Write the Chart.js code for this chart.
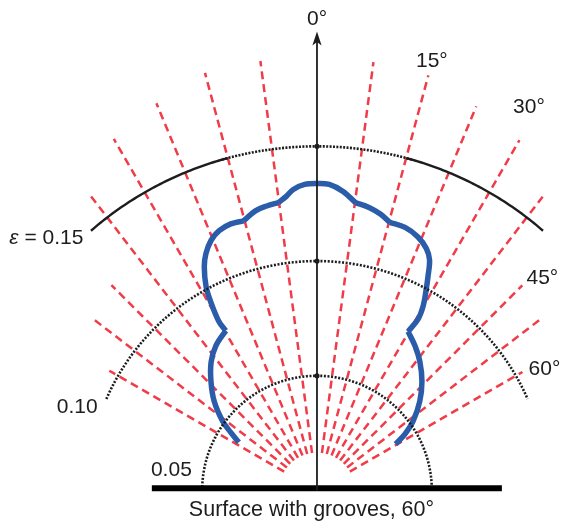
<!DOCTYPE html>
<html>
<head>
<meta charset="utf-8">
<script src="https://cdn.jsdelivr.net/npm/chart.js@4.4.1/dist/chart.umd.min.js"></script>
<style>
  html, body { margin: 0; padding: 0; background: #fff; }
  canvas { display: block; }
</style>
</head>
<body>
<canvas id="c" width="563" height="530"></canvas>
<script>
// Directional emissivity of a surface with 60° grooves (polar angle in degrees, 0° = normal)
const curveAngles = [-58.3, -56, -53.6, -49, -44.2, -39.4, -34.8, -29.7, -30.1, -29.4, -28.5, -26.7,
  -25.1, -22.9, -20.6, -17.9, -15.2, -12.4, -10, -7.6, -5.9, -4.5, -2.3, 0,
  2.3, 4.9, 7.6, 10.4, 12.9, 15.2, 18.5, 21.7, 24.3, 26, 27.4, 28.5,
  29.9, 30.5, 29.8, 34, 38.6, 43.9, 49, 54.1, 57.3, 59.4];
const curveEmissivity = [0.040, 0.0453, 0.0511, 0.0593, 0.0662, 0.0726, 0.077, 0.0802, 0.0853, 0.094, 0.1012, 0.1092,
  0.114, 0.1184, 0.121, 0.1221, 0.1218, 0.1248, 0.1259, 0.1266, 0.129, 0.1316, 0.1335, 0.1338,
  0.1335, 0.1309, 0.1266, 0.1254, 0.1236, 0.1211, 0.1209, 0.1189, 0.1157, 0.1118, 0.105, 0.0996,
  0.0927, 0.0867, 0.0798, 0.0762, 0.0718, 0.0659, 0.0593, 0.0517, 0.0455, 0.0398];
// indices where the curve has a sharp notch between lobes
const curveCorners = [7, 16, 19, 26, 29, 38];

// Measurement directions (dashed rays) and how far out each ray reaches
const rayAngles = [-60, -52.5, -45, -37.5, -30, -22.5, -15, -7.5, 7.5, 15, 22.5, 30, 37.5, 45, 52.5, 60];
const rayOuter = [0.1044, 0.1232, 0.1266, 0.162, 0.1769, 0.1827, 0.1884, 0.1888,
  0.1883, 0.1873, 0.1812, 0.1763, 0.1614, 0.1264, 0.1221, 0.1033];
const rayInner = 0.0165;

// Circles of constant emissivity and their angular half-span
const ringLevels = [0.05, 0.10, 0.15];
const ringSpans = [90, 66.5, 41];
const ringLabels = ['0.05', '0.10', '= 0.15'];
const angleTicks = ['0°', '15°', '30°', '45°', '60°'];
const surfaceSpan = [-0.0719, 0.0805];
const axisTop = 0.2;
const titleText = 'Surface with grooves, 60°';

// ---- geometry helpers ----
const PX_PER_UNIT = 2330;
const ORIGIN = { x: 317.5, y: 494 };
const W = 563, H = 530;

function polar(deg, r) {
  const a = deg * Math.PI / 180;
  return { x: r * Math.sin(a), y: r * Math.cos(a) };
}
function arc(r, from, to) {
  const pts = [];
  const n = Math.max(2, Math.ceil(Math.abs(to - from) / 0.5));
  for (let i = 0; i <= n; i++) pts.push(polar(from + (to - from) * i / n, r));
  return pts;
}

const RED = '#f03c48';
const BLUE = '#2a5caa';
const INK = '#1d1d1f';

const datasets = [];

// dashed rays
rayAngles.forEach((a, i) => {
  datasets.push({
    data: [polar(a, rayInner), polar(a, rayOuter[i])],
    borderColor: RED, borderWidth: 2.5, borderDash: [8, 5],
    borderCapStyle: 'butt', pointRadius: 0, showLine: true, order: 5
  });
});

// emissivity curve, split at notches so each lobe stays smooth
const pieces = [0, ...curveCorners, curveAngles.length - 1];
for (let p = 0; p < pieces.length - 1; p++) {
  const pts = [];
  for (let i = pieces[p]; i <= pieces[p + 1]; i++) pts.push(polar(curveAngles[i], curveEmissivity[i]));
  datasets.push({
    data: pts, borderColor: BLUE, borderWidth: 5.5, tension: 0.35,
    borderCapStyle: 'butt', borderJoinStyle: 'round',
    pointRadius: 0, showLine: true, order: 3
  });
}

// reference circles: inner ones dotted, outer one solid toward the ends
ringLevels.forEach((r, i) => {
  const span = ringSpans[i];
  if (i === ringLevels.length - 1) {
    datasets.push({ data: arc(r, -16, 16), borderColor: INK, borderWidth: 2.6, borderDash: [2, 1.4],
      pointRadius: 0, showLine: true, order: 2 });
    datasets.push({ data: arc(r, -span, -15), borderColor: INK, borderWidth: 2.4,
      pointRadius: 0, showLine: true, order: 2 });
    datasets.push({ data: arc(r, 15, span), borderColor: INK, borderWidth: 2.4,
      pointRadius: 0, showLine: true, order: 2 });
  } else {
    datasets.push({ data: arc(r, -span, span), borderColor: INK, borderWidth: 2.6, borderDash: [2, 1.6],
      pointRadius: 0, showLine: true, order: 2 });
  }
});

// marks where the circles meet the normal
datasets.push({
  data: ringLevels.map(r => ({ x: 0, y: r })),
  backgroundColor: INK, borderWidth: 0, pointRadius: 2.6, showLine: false, order: 1
});

// surface normal
datasets.push({
  data: [{ x: 0, y: 0 }, { x: 0, y: axisTop - 0.004 }],
  borderColor: INK, borderWidth: 1.8, pointRadius: 0, showLine: true, order: 1
});

// the grooved surface
datasets.push({
  data: [{ x: surfaceSpan[0], y: 0.001 }, { x: surfaceSpan[1], y: 0.001 }],
  borderColor: '#000', borderWidth: 6, borderCapStyle: 'butt', pointRadius: 0, showLine: true, order: 1
});

const FONT = '"Liberation Sans", Arial, Helvetica, sans-serif';
const SIZE = 21;

const annotate = {
  id: 'annotate',
  afterDatasetsDraw(chart) {
    const { ctx, scales: { x, y } } = chart;
    const px = v => x.getPixelForValue(v);
    const py = v => y.getPixelForValue(v);
    ctx.save();

    // arrowhead on the normal
    const tx = px(0), ty = py(axisTop);
    ctx.fillStyle = INK;
    ctx.beginPath();
    ctx.moveTo(tx, ty);
    ctx.lineTo(tx + 4.6, ty + 14);
    ctx.lineTo(tx, ty + 10.5);
    ctx.lineTo(tx - 4.6, ty + 14);
    ctx.closePath();
    ctx.fill();

    ctx.fillStyle = INK;
    ctx.textBaseline = 'alphabetic';
    ctx.font = SIZE + 'px ' + FONT;

    // angle labels
    const angPos = [
      { x: 0, y: 0.2030, align: 'center' },
      { x: 0.0500, y: 0.1845, align: 'center' },
      { x: 0.0923, y: 0.1644, align: 'center' },
      { x: 0.0912, y: 0.0901, align: 'left' },
      { x: 0.0921, y: 0.0503, align: 'left' }
    ];
    angleTicks.forEach((t, i) => {
      ctx.textAlign = angPos[i].align;
      ctx.fillText(t, px(angPos[i].x), py(angPos[i].y));
    });

    // circle labels
    const ringPos = [
      { x: -0.0545, y: 0.0063 },
      { x: -0.0955, y: 0.0339 },
      { x: -0.1017, y: 0.1073 }
    ];
    ctx.textAlign = 'right';
    ringLabels.forEach((t, i) => {
      ctx.fillText(t, px(ringPos[i].x), py(ringPos[i].y));
    });
    // symbol in front of the outer circle label
    const last = ringPos[ringPos.length - 1];
    const w = ctx.measureText(ringLabels[ringLabels.length - 1]).width;
    ctx.font = 'italic ' + SIZE + 'px ' + FONT;
    ctx.fillText('ε ', px(last.x) - w, py(last.y));

    // title under the surface
    ctx.font = '21.5px ' + FONT;
    ctx.textAlign = 'center';
    ctx.fillText(titleText, px(-0.0024), py(-0.0112));
    ctx.restore();
  }
};

new Chart(document.getElementById('c'), {
  type: 'scatter',
  data: { datasets },
  options: {
    responsive: false,
    animation: false,
    devicePixelRatio: 1,
    layout: { padding: 0 },
    plugins: { legend: { display: false }, tooltip: { enabled: false } },
    scales: {
      x: { type: 'linear', display: false, min: -ORIGIN.x / PX_PER_UNIT, max: (W - ORIGIN.x) / PX_PER_UNIT },
      y: { type: 'linear', display: false, min: -(H - ORIGIN.y) / PX_PER_UNIT, max: ORIGIN.y / PX_PER_UNIT }
    }
  },
  plugins: [annotate]
});
</script>
</body>
</html>
